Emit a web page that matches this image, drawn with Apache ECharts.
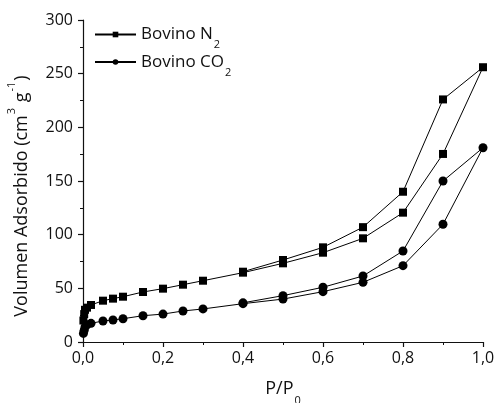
<!DOCTYPE html>
<html>
<head>
<meta charset="utf-8">
<script src="https://cdn.jsdelivr.net/npm/echarts@6/dist/echarts.min.js"></script>
<style>
  html, body { margin: 0; padding: 0; background: #fff; }
  #chart { width: 497px; height: 403px; }
</style>
</head>
<body>
<div id="chart"></div>
<script>
// Relative pressure P/P0 along the adsorption then desorption branch
const pressureN2 = [0.001, 0.003, 0.005, 0.01, 0.02, 0.05, 0.075, 0.1, 0.15, 0.2, 0.25, 0.3, 0.4, 0.5, 0.6, 0.7, 0.8, 0.9, 1.0,
                    0.9, 0.8, 0.7, 0.6, 0.5, 0.4];
const volumeN2 = [20, 26, 30, 32, 34.5, 38.5, 40.4, 42.2, 46.6, 49.7, 53.4, 57.1, 64.6, 73.3, 83.2, 96.6, 120.5, 175.2, 256,
                  226, 140, 107, 88.2, 76.4, 65.5];

const pressureCO2 = [0.001, 0.003, 0.005, 0.01, 0.02, 0.05, 0.075, 0.1, 0.15, 0.2, 0.25, 0.3, 0.4, 0.5, 0.6, 0.7, 0.8, 0.9, 1.0,
                     0.9, 0.8, 0.7, 0.6, 0.5, 0.4];
const volumeCO2 = [8, 11, 14, 16, 17.4, 19.6, 20.5, 21.7, 24.5, 26, 28.9, 30.8, 35.7, 40, 46.9, 55.6, 71.1, 109.7, 181,
                   150, 84.8, 61.5, 51, 43.2, 36.5];

const seriesNames = ['Bovino N2', 'Bovino CO2'];

const pairs = (xs, ys) => xs.map((x, i) => [x, ys[i]]);
const FONT = 'Open Sans';
const INK = '#111';

const chart = echarts.init(document.getElementById('chart'), null, { renderer: 'canvas' });

chart.setOption({
  animation: false,
  backgroundColor: '#fff',
  grid: { left: 83, right: 14, top: 20, bottom: 61, containLabel: false, outerBoundsMode: 'none' },
  legend: {
    orient: 'vertical',
    left: 89,
    top: 21,
    itemWidth: 41,
    itemHeight: 7,
    itemGap: 3,
    data: seriesNames,
    formatter: name => name === 'Bovino N2' ? '{t|Bovino N}{s|2}' : '{t|Bovino CO}{s|2}',
    textStyle: {
      fontFamily: FONT,
      color: INK,
      rich: {
        t: { fontFamily: FONT, fontSize: 17, color: INK, lineHeight: 22, verticalAlign: 'middle' },
        s: { fontFamily: FONT, fontSize: 11, color: INK, lineHeight: 22, verticalAlign: 'bottom', padding: [0, 0, -5, 1] }
      }
    }
  },
  xAxis: {
    type: 'value',
    min: 0, max: 1, interval: 0.2,
    name: '{t|P/P}{s|0}',
    nameLocation: 'middle',
    nameGap: 38,
    nameTextStyle: {
      rich: {
        t: { fontFamily: FONT, fontSize: 18, color: INK },
        s: { fontFamily: FONT, fontSize: 11, color: INK, verticalAlign: 'bottom', padding: [0, 0, -8, 1] }
      }
    },
    axisLine: { lineStyle: { color: INK, width: 1.2 } },
    axisTick: { inside: false, length: 5, lineStyle: { color: INK, width: 1.2 } },
    minorTick: { show: true, splitNumber: 2, length: 3, lineStyle: { color: INK, width: 1 } },
    splitLine: { show: false },
    axisLabel: {
      fontFamily: FONT, fontSize: 16, color: INK, margin: 8,
      formatter: v => v.toFixed(1).replace('.', ',')
    }
  },
  yAxis: {
    type: 'value',
    min: 0, max: 300, interval: 50,
    name: '{t|Volumen Adsorbido (cm}{s|3}{t| g}{s|-1}{t|)}',
    nameLocation: 'middle',
    nameGap: 52,
    nameRotate: 90,
    nameTextStyle: {
      padding: [0, 30, 0, 0],
      rich: {
        t: { fontFamily: FONT, fontSize: 18, color: INK },
        s: { fontFamily: FONT, fontSize: 11, color: INK, verticalAlign: 'top', padding: [-7, 1, 0, 1] }
      }
    },
    axisLine: { show: true, lineStyle: { color: INK, width: 1.2 } },
    axisTick: { show: true, inside: false, length: 5, lineStyle: { color: INK, width: 1.2 } },
    minorTick: { show: true, splitNumber: 2, length: 3, lineStyle: { color: INK, width: 1 } },
    splitLine: { show: false },
    axisLabel: { fontFamily: FONT, fontSize: 16, color: INK, margin: 10 }
  },
  series: [
    {
      name: seriesNames[0],
      type: 'line',
      data: pairs(pressureN2, volumeN2),
      symbol: 'rect',
      symbolSize: 8,
      showAllSymbol: true,
      itemStyle: { color: '#000' },
      lineStyle: { color: '#000', width: 1 }
    },
    {
      name: seriesNames[1],
      type: 'line',
      data: pairs(pressureCO2, volumeCO2),
      symbol: 'circle',
      symbolSize: 9,
      showAllSymbol: true,
      itemStyle: { color: '#000' },
      lineStyle: { color: '#000', width: 1 }
    }
  ]
});
</script>
</body>
</html>
